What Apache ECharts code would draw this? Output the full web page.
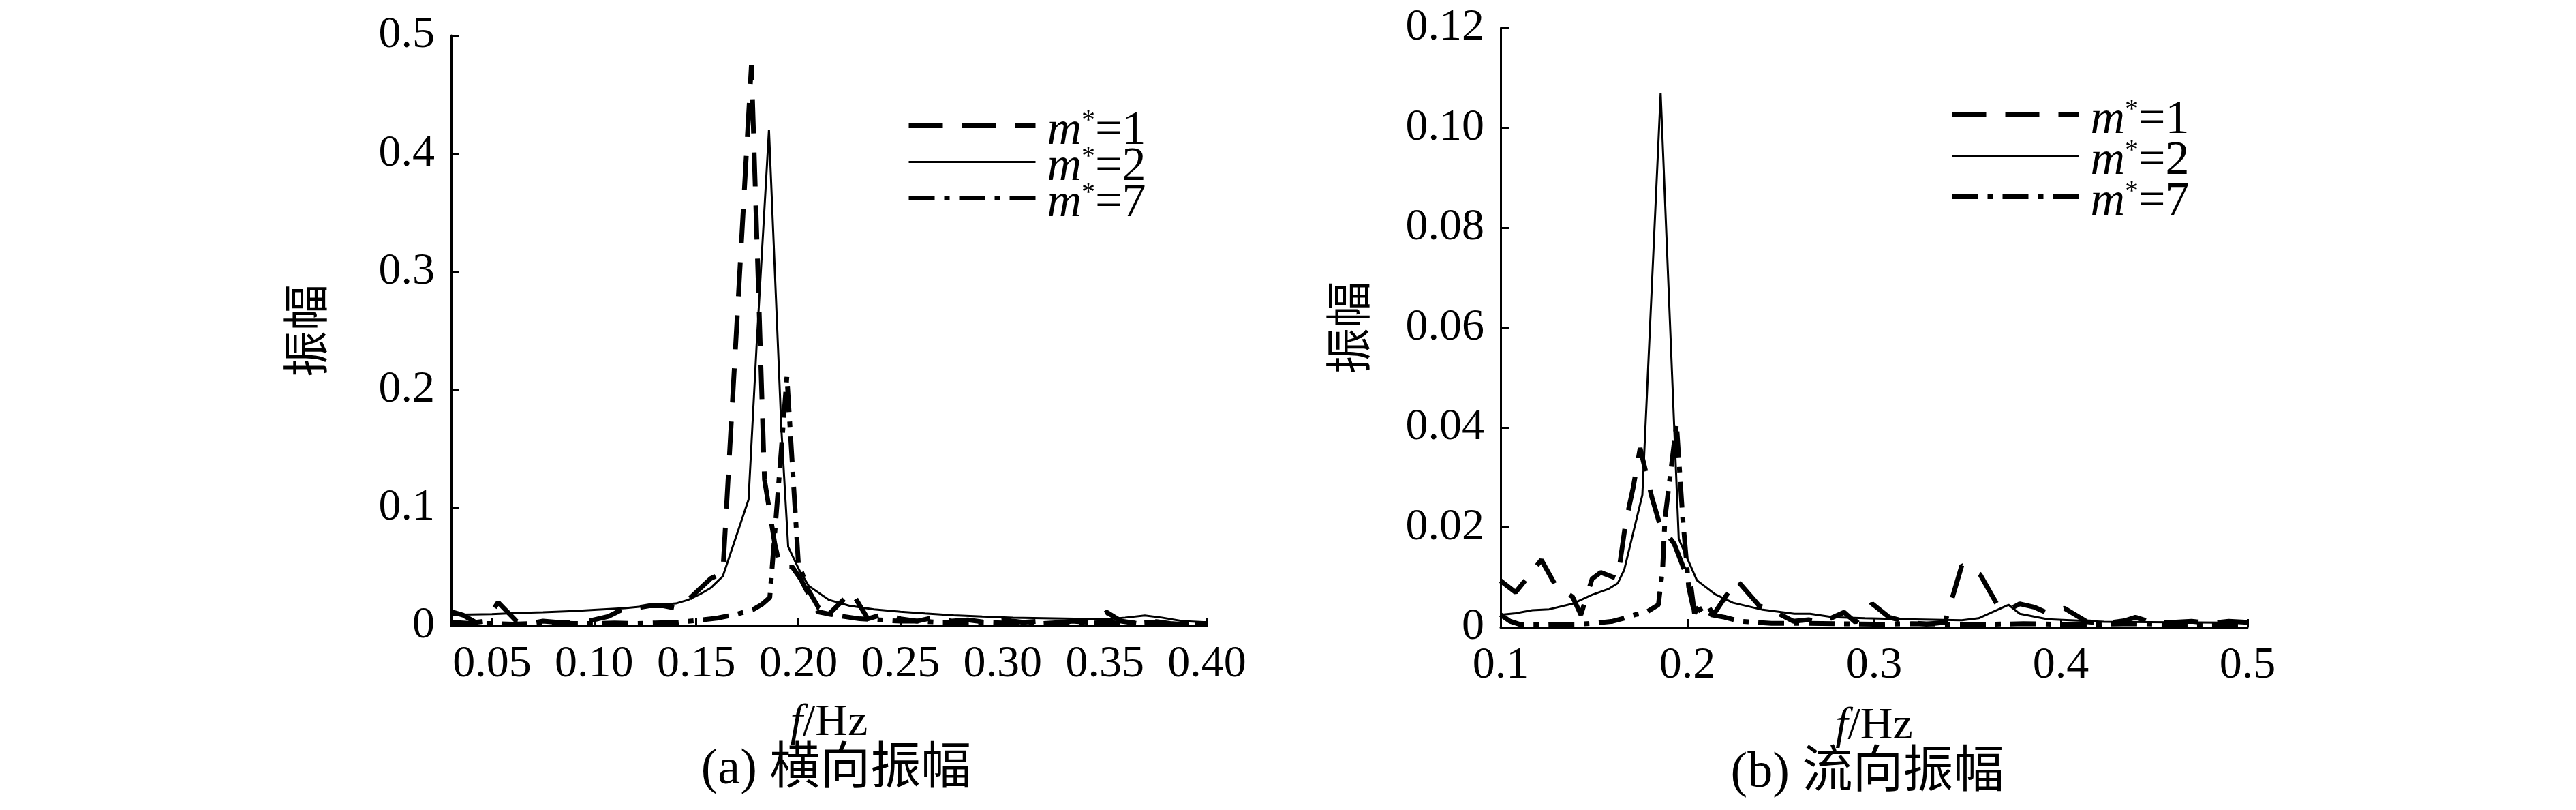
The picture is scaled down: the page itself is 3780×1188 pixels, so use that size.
<!DOCTYPE html>
<html>
<head>
<meta charset="utf-8">
<script src="https://cdn.jsdelivr.net/npm/echarts@6/dist/echarts.min.js"></script>
<style>html,body{margin:0;padding:0;background:#fff}#c{width:3780px;height:1188px}</style>
</head>
<body>
<div id="c"></div>
<script>
// ---- Data: (a) transverse amplitude ----
const seriesNames = ['m*=1', 'm*=2', 'm*=7'];
const xTicksA = [0.05, 0.10, 0.15, 0.20, 0.25, 0.30, 0.35, 0.40];
const yTicksA = [0, 0.1, 0.2, 0.3, 0.4, 0.5];
const xTicksB = [0.1, 0.2, 0.3, 0.4, 0.5];
const yTicksB = [0, 0.02, 0.04, 0.06, 0.08, 0.10, 0.12];

const latM1 = [
  [0.030,0.012],[0.036,0.009],[0.042,0.003],[0.047,0.004],[0.053,0.020],[0.062,0.004],
  [0.068,0.002],[0.075,0.004],[0.082,0.003],[0.090,0.003],[0.097,0.004],[0.102,0.006],
  [0.107,0.008],[0.114,0.014],[0.120,0.015],[0.127,0.017],[0.134,0.017],[0.140,0.015],
  [0.146,0.022],[0.157,0.040],[0.163,0.045],[0.177,0.475],[0.1834,0.124],[0.1884,0.070],
  [0.191,0.050],[0.197,0.050],[0.201,0.040],[0.2095,0.012],[0.215,0.010],[0.226,0.029],
  [0.234,0.006],[0.242,0.010],[0.250,0.006],[0.258,0.004],[0.266,0.007],[0.275,0.004],
  [0.283,0.005],[0.292,0.003],[0.300,0.005],[0.310,0.003],[0.318,0.004],[0.326,0.002],
  [0.334,0.004],[0.342,0.003],[0.351,0.0115],[0.358,0.004],[0.366,0.002],[0.374,0.004],
  [0.382,0.002],[0.390,0.001],[0.400,0.004]
];
const latM2 = [
  [0.030,0.0094],[0.040,0.0097],[0.050,0.010],[0.063,0.011],[0.075,0.0115],[0.090,0.0125],
  [0.100,0.0135],[0.115,0.015],[0.129,0.0173],[0.140,0.019],[0.146,0.022],[0.152,0.027],
  [0.157,0.032],[0.163,0.042],[0.1756,0.107],[0.1795,0.236],[0.1856,0.420],[0.1917,0.166],
  [0.195,0.067],[0.2005,0.047],[0.205,0.034],[0.215,0.022],[0.225,0.017],[0.237,0.014],
  [0.250,0.012],[0.262,0.0105],[0.276,0.009],[0.290,0.008],[0.305,0.007],[0.320,0.0065],
  [0.335,0.006],[0.350,0.0055],[0.360,0.007],[0.3696,0.0088],[0.378,0.007],[0.388,0.004],
  [0.400,0.003]
];
const latM7 = [
  [0.030,0.003],[0.040,0.002],[0.050,0.002],[0.060,0.0015],[0.070,0.002],[0.080,0.0025],
  [0.090,0.002],[0.100,0.002],[0.110,0.0025],[0.120,0.002],[0.130,0.0025],[0.140,0.003],
  [0.150,0.0045],[0.160,0.0065],[0.170,0.010],[0.178,0.014],[0.182,0.018],[0.186,0.024],
  [0.1944,0.211],[0.200,0.053],[0.205,0.030],[0.210,0.015],[0.215,0.010],[0.222,0.008],
  [0.230,0.006],[0.240,0.005],[0.250,0.004],[0.260,0.004],[0.270,0.003],[0.280,0.003],
  [0.290,0.003],[0.300,0.0025],[0.310,0.003],[0.320,0.002],[0.330,0.003],[0.340,0.002],
  [0.350,0.003],[0.360,0.002],[0.370,0.003],[0.380,0.002],[0.390,0.002],[0.400,0.002]
];

// ---- Data: (b) streamwise amplitude ----
const strM1 = [
  [0.100,0.0093],[0.108,0.0070],[0.113,0.0093],[0.1218,0.0135],[0.1294,0.0084],[0.1385,0.0061],
  [0.143,0.0025],[0.149,0.0097],[0.1536,0.011],[0.1627,0.0097],[0.167,0.021],[0.171,0.028],
  [0.1747,0.0359],[0.181,0.026],[0.1853,0.0205],[0.193,0.0167],[0.202,0.008],[0.2038,0.0028],
  [0.209,0.0055],[0.214,0.0025],[0.2264,0.0095],[0.2385,0.0043],[0.2476,0.0030],[0.2567,0.0012],
  [0.265,0.0015],[0.272,0.0010],[0.284,0.0030],[0.290,0.0010],[0.299,0.0047],[0.308,0.0020],
  [0.318,0.0010],[0.328,0.0006],[0.338,0.0010],[0.347,0.0124],[0.3567,0.0106],[0.3657,0.0047],
  [0.372,0.0035],[0.378,0.0047],[0.386,0.0040],[0.392,0.0030],[0.402,0.0038],[0.414,0.0011],
  [0.424,0.0008],[0.434,0.0013],[0.440,0.0020],[0.450,0.0008],[0.460,0.0010],[0.470,0.0012],
  [0.480,0.0008],[0.490,0.0012],[0.500,0.0010]
];
const strM2 = [
  [0.100,0.0025],[0.108,0.0028],[0.117,0.0034],[0.126,0.0036],[0.1385,0.0047],[0.149,0.0065],
  [0.158,0.0077],[0.1627,0.0088],[0.1662,0.0115],[0.1759,0.0265],[0.1857,0.107],[0.1954,0.0177],
  [0.2051,0.0094],[0.2149,0.0066],[0.2245,0.0049],[0.2404,0.0035],[0.2573,0.0027],[0.2657,0.0027],
  [0.278,0.0020],[0.295,0.0018],[0.317,0.0016],[0.347,0.0014],[0.356,0.0018],[0.372,0.0045],
  [0.378,0.0027],[0.393,0.0016],[0.4233,0.0011],[0.460,0.0010],[0.500,0.0009]
];
const strM7 = [
  [0.100,0.0025],[0.105,0.0012],[0.111,0.0005],[0.120,0.0005],[0.130,0.0006],[0.140,0.0006],
  [0.150,0.0008],[0.160,0.0012],[0.166,0.0018],[0.172,0.0025],[0.178,0.0030],[0.1845,0.0045],
  [0.1868,0.0119],[0.188,0.0217],[0.1942,0.0407],[0.1975,0.022],[0.2007,0.0081],[0.2038,0.0028],
  [0.2088,0.0040],[0.213,0.0025],[0.220,0.0020],[0.228,0.0012],[0.236,0.0010],[0.245,0.0008],
  [0.260,0.0008],[0.280,0.0007],[0.300,0.0006],[0.320,0.0007],[0.340,0.0006],[0.360,0.0006],
  [0.380,0.0007],[0.400,0.0006],[0.420,0.0006],[0.440,0.0007],[0.460,0.0006],[0.480,0.0006],
  [0.500,0.0006]
];

const captions = ['(a) 横向振幅', '(b) 流向振幅'];
const yName = '振幅';

// ---- Styles ----
const SERIF = '"Liberation Serif", "Times New Roman", "Noto Sans CJK SC", serif';
const FS = 66;
const LFS = 70;
const lineStyles = [
  {color: '#000', width: 7, type: [50, 28], cap: 'butt'},
  {color: '#000', width: 3, type: 'solid'},
  {color: '#000', width: 7, type: [38, 14, 8, 14], cap: 'butt'}
];

function xAxis(grid, min, max, ticks, fmt, gap) {
  return {
    type: 'value', gridIndex: grid, min: min, max: max,
    axisLine: {show: true, onZero: false, lineStyle: {color: '#000', width: 3}},
    axisTick: {show: true, inside: true, length: 12, lineStyle: {color: '#000', width: 3}, customValues: ticks},
    axisLabel: {color: '#000', fontFamily: SERIF, fontSize: FS, margin: 24, customValues: ticks, formatter: fmt},
    splitLine: {show: false},
    name: '{i|f}/Hz', nameLocation: 'middle', nameGap: gap,
    nameTextStyle: {color: '#000', fontFamily: SERIF, fontSize: FS,
      rich: {i: {fontStyle: 'italic', fontFamily: SERIF, fontSize: FS, color: '#000'}}}
  };
}
function yAxis(grid, max, interval, fmt, gap) {
  return {
    type: 'value', gridIndex: grid, min: 0, max: max, interval: interval,
    axisLine: {show: true, lineStyle: {color: '#000', width: 3}},
    axisTick: {show: true, inside: true, length: 12, lineStyle: {color: '#000', width: 3}},
    axisLabel: {color: '#000', fontFamily: SERIF, fontSize: FS, margin: 24, formatter: fmt},
    splitLine: {show: false},
    name: yName, nameLocation: 'middle', nameRotate: 90, nameGap: gap,
    nameTextStyle: {color: '#000', fontFamily: SERIF, fontSize: 68}
  };
}
function mkSeries(data, idx, grid) {
  return {
    type: 'line', name: seriesNames[idx], xAxisIndex: grid, yAxisIndex: grid,
    data: data, symbol: 'none', showSymbol: false, smooth: false,
    lineStyle: lineStyles[idx], itemStyle: {color: '#000'}, z: 3 - idx
  };
}
function legendFmt(name) {
  const n = name.split('=')[1];
  return '{i|m}{s|*}{t|=' + n + '}';
}
const legendRich = {
  i: {fontStyle: 'italic', fontFamily: SERIF, fontSize: LFS, color: '#000', padding: [0, 0, 0, 12]},
  s: {fontFamily: SERIF, fontSize: 40, verticalAlign: 'top', color: '#000'},
  t: {fontFamily: SERIF, fontSize: LFS, color: '#000'}
};
function legend(left, top, gap) {
  return {
    data: seriesNames.map((n, i) => ({
      name: n,
      lineStyle: {color: '#000', width: lineStyles[i].width, type: lineStyles[i].type, cap: 'butt', opacity: 1},
      itemStyle: {opacity: 0}
    })),
    orient: 'vertical', left: left, top: top,
    itemWidth: 186, itemHeight: 20, itemGap: gap,
    formatter: legendFmt, selectedMode: false,
    itemStyle: {opacity: 0},
    textStyle: {rich: legendRich, color: '#000', padding: [17, 0, 0, 0]}
  };
}

const chart = echarts.init(document.getElementById('c'), null, {renderer: 'canvas'});
chart.setOption({
  animation: false,
  backgroundColor: '#fff',
  grid: [
    {left: 662, top: 52, width: 1109, height: 866},
    {left: 2202, top: 41, width: 1096, height: 879}
  ],
  xAxis: [
    xAxis(0, 0.03, 0.40, xTicksA, v => v.toFixed(2), 110),
    xAxis(1, 0.1, 0.5, xTicksB, v => v.toFixed(1), 113)
  ],
  yAxis: [
    yAxis(0, 0.5, 0.1, v => (v === 0 ? '0' : v.toFixed(1)), 172),
    yAxis(1, 0.12, 0.02, v => (v === 0 ? '0' : v.toFixed(2)), 182)
  ],
  legend: [legend(1325, 153, -17), legend(2856, 137, -10)],
  series: [
    mkSeries(latM1, 0, 0), mkSeries(latM2, 1, 0), mkSeries(latM7, 2, 0),
    mkSeries(strM1, 0, 1), mkSeries(strM2, 1, 1), mkSeries(strM7, 2, 1)
  ],
  graphic: [
    {type: 'text', x: 1227, y: 1130, style: {text: captions[0], fontFamily: SERIF, fontSize: 74, fill: '#000', textAlign: 'center', textVerticalAlign: 'middle'}},
    {type: 'text', x: 2740, y: 1135, style: {text: captions[1], fontFamily: SERIF, fontSize: 74, fill: '#000', textAlign: 'center', textVerticalAlign: 'middle'}}
  ]
});
</script>
</body>
</html>
